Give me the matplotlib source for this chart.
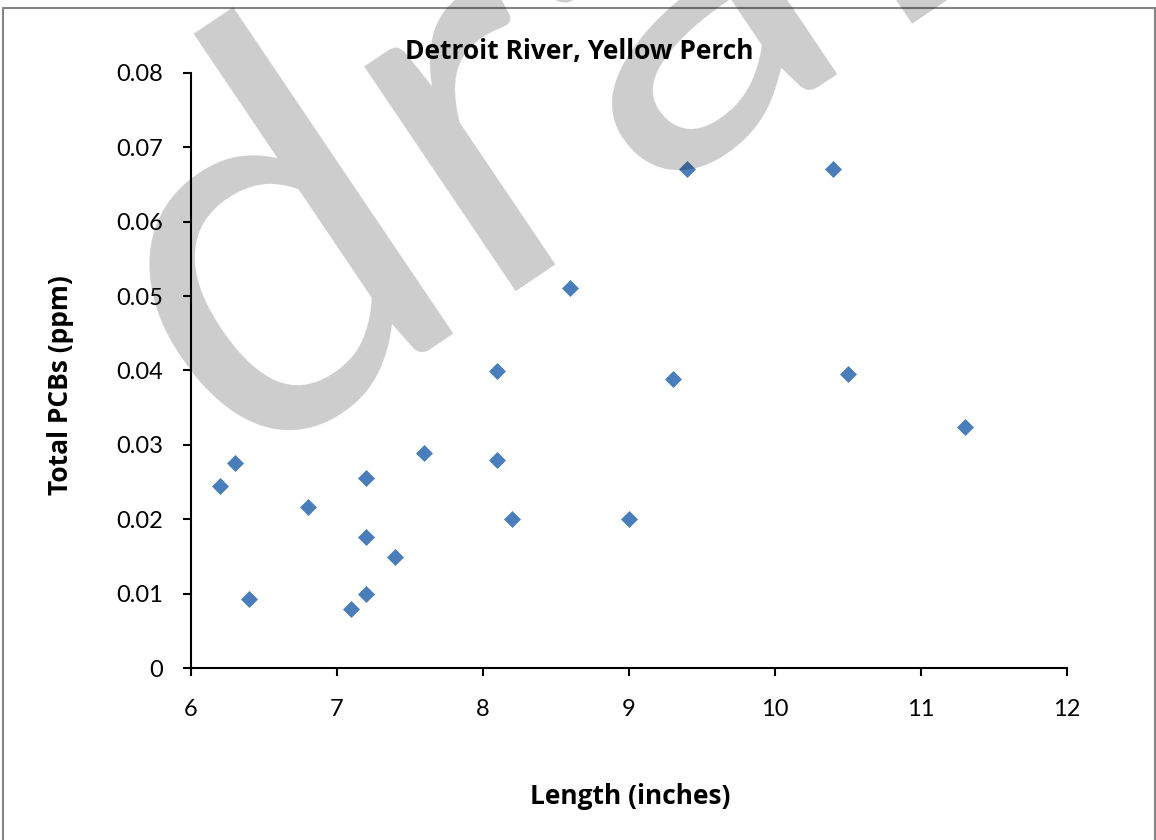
import matplotlib
matplotlib.use('Agg')
import matplotlib.pyplot as plt
from matplotlib.patches import Rectangle

plt.rcParams['font.family'] = ['Lato', 'DejaVu Sans']

# fish length (inches) vs total PCBs (ppm)
length = [6.2, 6.3, 6.4, 6.8, 7.1, 7.2, 7.2, 7.2, 7.4, 7.6,
          8.1, 8.1, 8.2, 8.6, 9.0, 9.3, 9.4, 10.4, 10.5, 11.3]
pcbs = [0.0245, 0.0276, 0.0093, 0.0217, 0.0079, 0.0255, 0.0176, 0.0100, 0.0150, 0.0289,
        0.0399, 0.0280, 0.0200, 0.0511, 0.0200, 0.0389, 0.0670, 0.0670, 0.0395, 0.0324]
xticks = [6, 7, 8, 9, 10, 11, 12]
yticks = [0, 0.01, 0.02, 0.03, 0.04, 0.05, 0.06, 0.07, 0.08]
yticklabels = ['0', '0.01', '0.02', '0.03', '0.04', '0.05', '0.06', '0.07', '0.08']

W, H = 1156, 840
fig = plt.figure(figsize=(W/100, H/100), dpi=100)
fig.patch.set_facecolor('white')

# chart border
fig.patches.append(Rectangle((3/W, -0.01), 1152/W, 1-8/H+0.01, transform=fig.transFigure,
                             fill=False, edgecolor='#868686', lw=1.5))

ax = fig.add_axes([190.7/W, 1-668.3/H, 876/W, 595.6/H])
ax.plot(length, pcbs, 'D', color='#4a7ebb', ms=8.5, mec='#4a7ebb', mew=0.5, zorder=3)

ax.set_xlim(6, 12)
ax.set_ylim(0, 0.08)
ax.set_xticks(xticks)
ax.set_xticklabels([str(t) for t in xticks])
ax.set_yticks(yticks)
ax.set_yticklabels(yticklabels)
for s in ['top', 'right']:
    ax.spines[s].set_visible(False)
for s in ['left', 'bottom']:
    ax.spines[s].set_linewidth(1.5)
ax.tick_params(direction='out', length=6, width=1.5, labelsize=17)
ax.tick_params(axis='x', pad=16)
ax.tick_params(axis='y', pad=14)

bold = dict(family=['Open Sans', 'DejaVu Sans'], fontweight='bold', fontsize=19)
fig.text(579/W, 1-51/H, 'Detroit River, Yellow Perch', ha='center', va='center', **bold)
fig.text(60/W, 1-385/H, 'Total PCBs (ppm)', ha='center', va='center', rotation=90, **bold)
fig.text(630/W, 1-797/H, 'Length (inches)', ha='center', va='center', **bold)

# watermark
fig.text(233/W, 1-467/H, 'draft', ha='left', va='baseline', rotation=34,
         rotation_mode='anchor', fontsize=385, color='black', alpha=0.2, zorder=10)

fig.savefig('out.png', dpi=100)
